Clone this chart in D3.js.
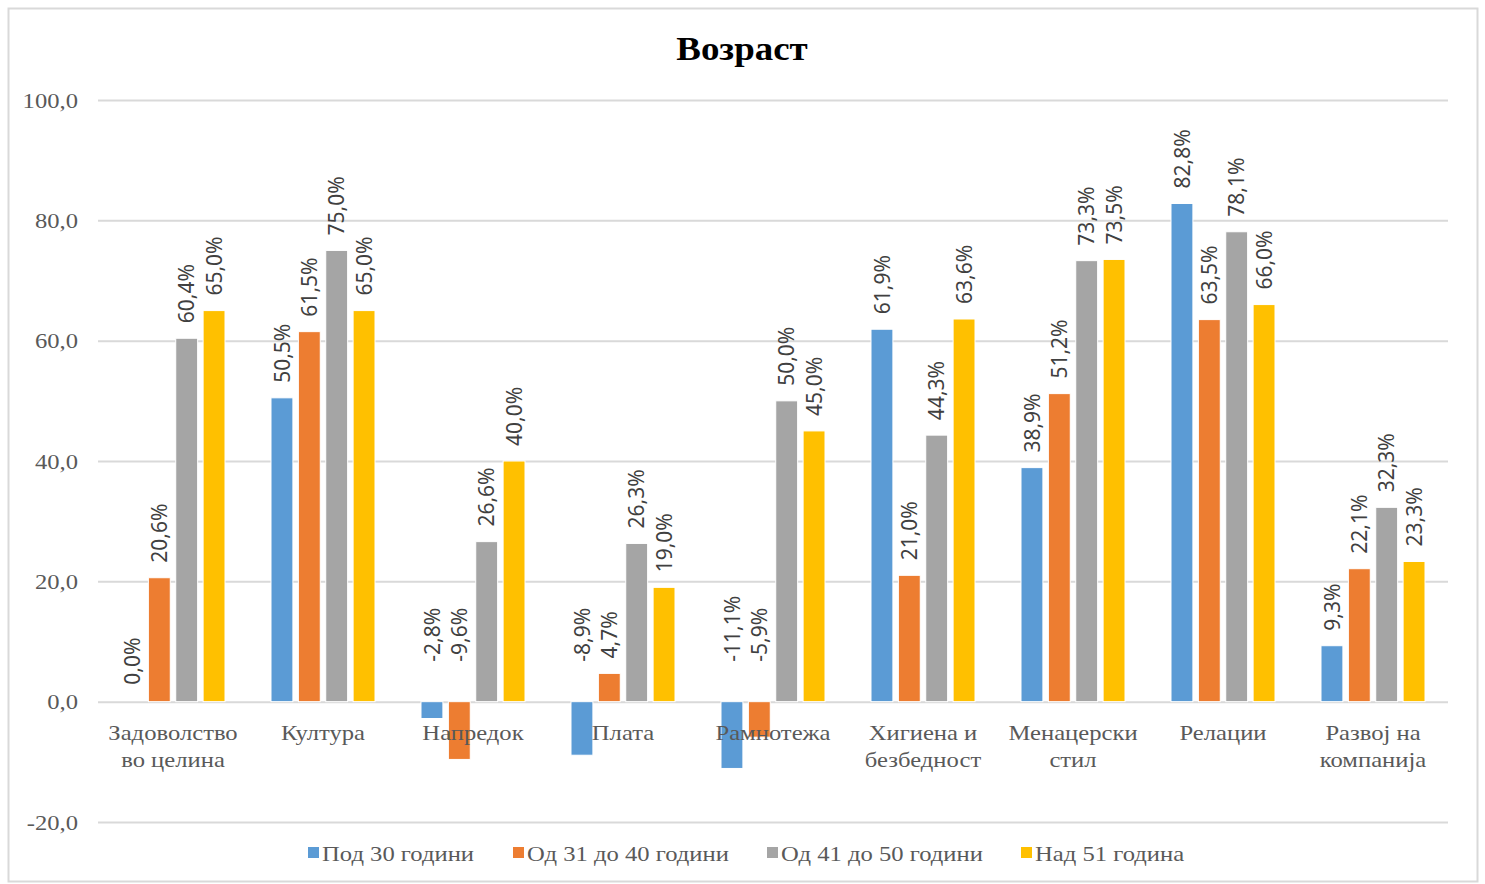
<!DOCTYPE html>
<html>
<head>
<meta charset="utf-8">
<script src="https://cdn.jsdelivr.net/npm/d3@7"></script>
<style>
  body { margin: 0; background: #fff; }
</style>
</head>
<body>
<div id="chart"></div>
<script>
// chart data
const categories = [
  ["Задоволство", "во целина"], ["Култура"], ["Напредок"], ["Плата"], ["Рамнотежа"],
  ["Хигиена и", "безбедност"], ["Менацерски", "стил"], ["Релации"], ["Развој на", "компанија"]
];
const seriesNames = ["Под 30 години", "Од 31 до 40 години", "Од 41 до 50 години", "Над 51 година"];
const under30 = [0.0, 50.5, -2.8, -8.9, -11.1, 61.9, 38.9, 82.8, 9.3];
const from31to40 = [20.6, 61.5, -9.6, 4.7, -5.9, 21.0, 51.2, 63.5, 22.1];
const from41to50 = [60.4, 75.0, 26.6, 26.3, 50.0, 44.3, 73.3, 78.1, 32.3];
const over51 = [65.0, 65.0, 40.0, 19.0, 45.0, 63.6, 73.5, 66.0, 23.3];
const yTicks = [-20, 0, 20, 40, 60, 80, 100];
const colors = ["#5b9bd5", "#ed7d31", "#a5a5a5", "#ffc000"];

const seriesValues = [under30, from31to40, from41to50, over51];

const width = 1485, height = 884;
const margin = { top: 100, right: 37, bottom: 62, left: 98 };
const innerW = width - margin.left - margin.right;
const innerH = height - margin.top - margin.bottom;

const serif = "'Liberation Serif', 'Times New Roman', serif";
const stretch = 1.12; // the serif text in the picture is a bit wide

const svg = d3.select("#chart").append("svg")
  .attr("width", width)
  .attr("height", height);

// outer frame
svg.append("rect")
  .attr("x", 8.5).attr("y", 8.5)
  .attr("width", 1469).attr("height", 873)
  .attr("fill", "#fff")
  .attr("stroke", "#d9d9d9")
  .attr("stroke-width", 2);

svg.append("text")
  .attr("transform", `translate(742,60) scale(${stretch},1)`)
  .attr("text-anchor", "middle")
  .style("font-family", serif)
  .style("font-weight", "bold")
  .style("font-size", "33px")
  .attr("fill", "#000")
  .text("Возраст");

const g = svg.append("g").attr("transform", `translate(${margin.left},${margin.top})`);

const x0 = d3.scaleBand()
  .domain(d3.range(categories.length))
  .range([0, innerW]);

const x1 = d3.scaleBand()
  .domain(d3.range(seriesNames.length))
  .range([23, x0.bandwidth() - 23])
  .paddingInner(0.2);

const y = d3.scaleLinear()
  .domain([-20, 100])
  .range([innerH, 0]);

const fmt = v => v.toFixed(1).replace(".", ",");

// gridlines + y labels
const yAxis = g.append("g")
  .call(d3.axisLeft(y).tickValues(yTicks).tickSize(-innerW).tickFormat(fmt).tickPadding(20));
yAxis.select(".domain").remove();
yAxis.selectAll(".tick line").attr("stroke", "#d9d9d9").attr("stroke-width", 2);
yAxis.selectAll(".tick text")
  .attr("x", 0)
  .attr("transform", `translate(-20,0) scale(${stretch},1)`)
  .style("font-family", serif)
  .style("font-size", "22px")
  .attr("fill", "#595959");

// bars
const groups = g.append("g")
  .selectAll("g")
  .data(categories.map((c, i) => i))
  .enter().append("g")
  .attr("transform", i => `translate(${x0(i)},0)`);

const cells = groups.selectAll("g")
  .data(i => seriesValues.map((s, k) => ({ k, v: s[i] })))
  .enter().append("g");

cells.append("rect")
  .attr("x", d => x1(d.k))
  .attr("y", d => y(Math.max(d.v, 0)))
  .attr("width", x1.bandwidth())
  .attr("height", d => Math.abs(y(d.v) - y(0)))
  .attr("fill", d => colors[d.k])
  .attr("stroke", "#fff")
  .attr("stroke-width", 1);

// value labels
cells.append("text")
  .attr("transform", d => {
    const cx = x1(d.k) + x1.bandwidth() / 2;
    const base = d.v > 0 ? y(d.v) - 15 : (d.v === 0 ? y(0) - 17 : y(0) - 40);
    return `translate(${cx},${base}) rotate(-90)`;
  })
  .attr("dy", "0.36em")
  .attr("text-anchor", "start")
  .style("font-family", "'Noto Sans', sans-serif")
  .style("font-size", "21px")
  .attr("fill", "#404040")
  .text(d => fmt(d.v) + "%");

// category labels
const catG = g.append("g");
categories.forEach((lines, i) => {
  const t = catG.append("text")
    .attr("transform", `translate(${x0(i) + x0.bandwidth() / 2},${y(0) + 38}) scale(${stretch},1)`)
    .attr("text-anchor", "middle")
    .style("font-family", serif)
    .style("font-size", "22px")
    .attr("fill", "#595959");
  lines.forEach((line, j) => {
    t.append("tspan")
      .attr("x", 0)
      .attr("dy", j === 0 ? 0 : 27)
      .text(line);
  });
});

// legend
const legendX = [308, 513, 767, 1021];
const legend = svg.append("g");
seriesNames.forEach((name, k) => {
  legend.append("rect")
    .attr("x", legendX[k]).attr("y", 847)
    .attr("width", 11).attr("height", 11)
    .attr("fill", colors[k]);
  legend.append("text")
    .attr("transform", `translate(${legendX[k] + 14},861) scale(${stretch},1)`)
    .style("font-family", serif)
    .style("font-size", "22px")
    .attr("fill", "#595959")
    .text(name);
});
</script>
</body>
</html>
